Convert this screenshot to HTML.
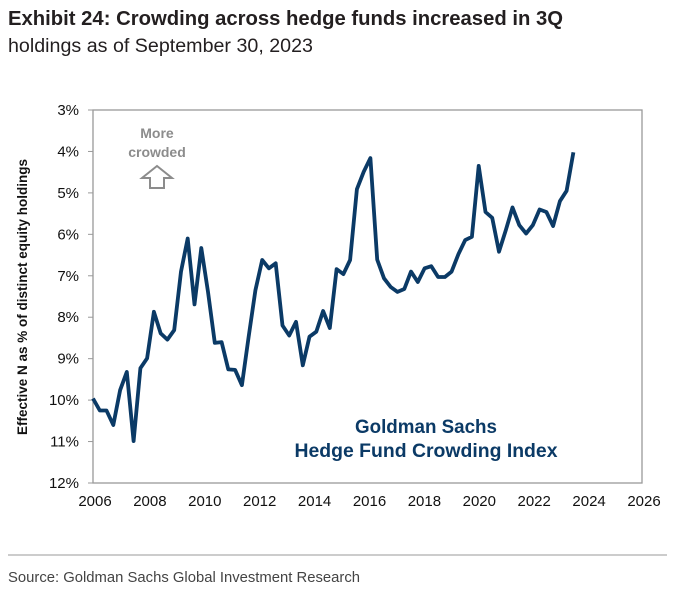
<!DOCTYPE html>
<html><head><meta charset="utf-8"><style>
html,body{margin:0;padding:0;background:#fff;}
svg{display:block;font-family:"Liberation Sans",Arial,sans-serif;}
</style></head><body>
<svg width="678" height="593" viewBox="0 0 678 593">
<text x="8" y="25" font-family="Liberation Sans Narrow, Liberation Sans, sans-serif" font-weight="bold" font-size="20" fill="#231f20" textLength="555" lengthAdjust="spacingAndGlyphs">Exhibit 24: Crowding across hedge funds increased in 3Q</text>
<text x="8" y="52" font-family="Liberation Sans Narrow, Liberation Sans, sans-serif" font-size="19" fill="#231f20" textLength="305" lengthAdjust="spacingAndGlyphs">holdings as of September 30, 2023</text>
<rect x="93" y="110" width="549" height="373" fill="none" stroke="#999" stroke-width="1.3"/>
<g id="yaxis"></g>
<g id="xaxis"></g>
<text transform="translate(27,297) rotate(-90)" text-anchor="middle" font-weight="bold" font-size="13.5" fill="#111">Effective N as % of distinct equity holdings</text>
<text x="157" y="138" text-anchor="middle" font-weight="bold" font-size="14" fill="#8c8c8c">More</text>
<text x="157" y="157" text-anchor="middle" font-weight="bold" font-size="14" fill="#8c8c8c">crowded</text>
<path d="M150,188 L150,178 L142,178 L157,166 L172,178 L164,178 L164,188 Z" fill="#fff" stroke="#8c8c8c" stroke-width="2"/>
<text x="426" y="433" text-anchor="middle" font-weight="bold" font-size="19" fill="#0b3a66" textLength="142" lengthAdjust="spacingAndGlyphs">Goldman Sachs</text>
<text x="426" y="457" text-anchor="middle" font-weight="bold" font-size="19" fill="#0b3a66" textLength="263" lengthAdjust="spacingAndGlyphs">Hedge Fund Crowding Index</text>
<path id="line" fill="none" stroke="#0b3a66" stroke-width="3.8" stroke-linejoin="round"/>
<line x1="8" y1="555" x2="667" y2="555" stroke="#999" stroke-width="1"/>
<text x="8" y="582" font-family="Liberation Sans Narrow, Liberation Sans, sans-serif" font-size="15" fill="#444" textLength="352" lengthAdjust="spacingAndGlyphs">Source: Goldman Sachs Global Investment Research</text>
</svg>
<script>
const yTicks = [3,4,5,6,7,8,9,10,11,12];
const xTicks = [2006,2008,2010,2012,2014,2016,2018,2020,2022,2024,2026];
const startYear = 2006;
const values = [9.96,10.25,10.25,10.6,9.76,9.32,10.99,9.23,8.99,7.87,8.39,8.54,8.31,6.9,6.1,7.69,6.33,7.39,8.62,8.6,9.26,9.27,9.64,8.48,7.35,6.62,6.82,6.7,8.2,8.44,8.11,9.16,8.47,8.35,7.85,8.26,6.84,6.96,6.62,4.91,4.49,4.16,6.61,7.06,7.27,7.39,7.32,6.9,7.15,6.82,6.77,7.03,7.03,6.9,6.48,6.14,6.06,4.35,5.46,5.6,6.42,5.9,5.35,5.78,5.98,5.78,5.4,5.46,5.8,5.2,4.95,4.02];
const NS='http://www.w3.org/2000/svg';
const L=93,R=642,T=110,B=483;
function xs(v){return L+(v-2006)/(2026-2006)*(R-L);}
function ys(v){return T+(v-3)/(12-3)*(B-T);}
const ya=document.getElementById('yaxis'), xa=document.getElementById('xaxis');
yTicks.forEach(t=>{
  const ln=document.createElementNS(NS,'line');
  ln.setAttribute('x1',88);ln.setAttribute('x2',L);ln.setAttribute('y1',ys(t));ln.setAttribute('y2',ys(t));
  ln.setAttribute('stroke','#999');
  
  
  ya.appendChild(ln);
  const tx=document.createElementNS(NS,'text');
  tx.setAttribute('x',79);tx.setAttribute('y',ys(t)+5);tx.setAttribute('text-anchor','end');
  tx.setAttribute('font-size','15');tx.setAttribute('fill','#111');
  tx.textContent=t+'%';
  
  
  ya.appendChild(tx);
});
xTicks.forEach(t=>{
  const tx=document.createElementNS(NS,'text');
  tx.setAttribute('x',xs(t)+2);tx.setAttribute('y',506);tx.setAttribute('text-anchor','middle');
  tx.setAttribute('font-size','15');tx.setAttribute('fill','#111');
  tx.textContent=t;
  
  
  xa.appendChild(tx);
});
let d='';
values.forEach((v,i)=>{const yr=startYear+i*0.2465;d+=(i?'L':'M')+xs(yr).toFixed(1)+','+ys(v).toFixed(1);});
document.getElementById('line').setAttribute('d',d);
</script>
</body></html>
